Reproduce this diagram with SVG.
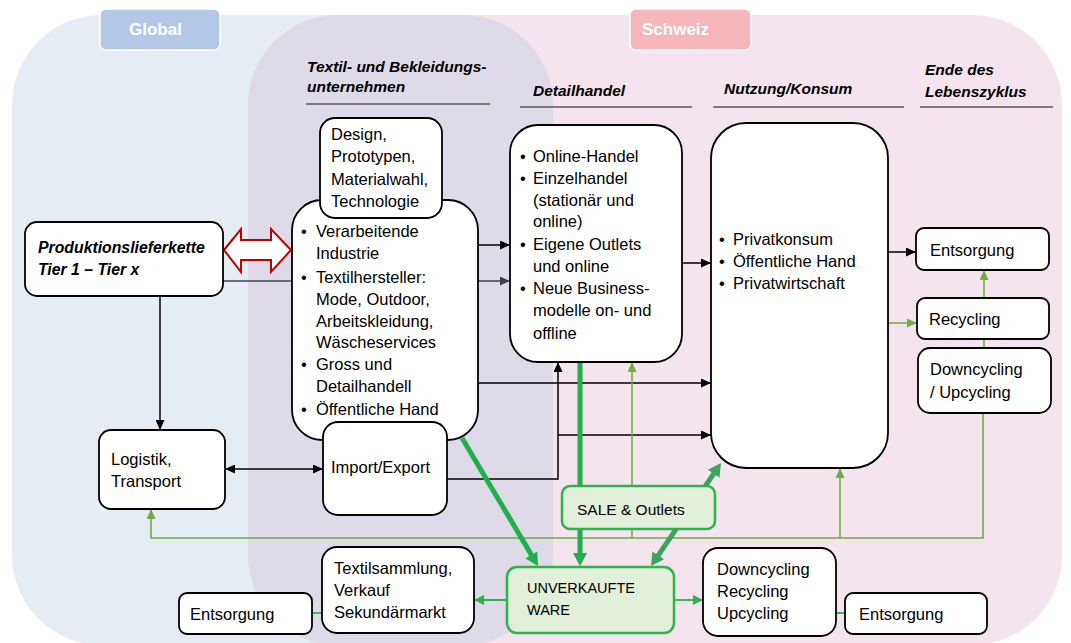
<svg xmlns="http://www.w3.org/2000/svg" width="1071" height="643" viewBox="0 0 1071 643">
<defs>
<style>
.node{fill:#fff;stroke:#000;stroke-width:1.8}
.gnode{fill:#e2efda;stroke:#2db34a;stroke-width:2.5}
.t{font-family:"Liberation Sans",Arial,sans-serif;font-size:16.5px;fill:#000}
.h{font-family:"Liberation Sans",Arial,sans-serif;font-size:15.5px;font-weight:bold;font-style:italic;fill:#000}
.lbl{font-family:"Liberation Sans",Arial,sans-serif;font-size:17px;font-weight:bold;fill:#fff}
.ul{stroke:#595959;stroke-width:1.5}
.cb{fill:none;stroke:#000;stroke-width:1.5}
.cs{fill:none;stroke:#3f3f55;stroke-width:1.5}
.cg{fill:none;stroke:#70ad47;stroke-width:1.6}
.cm{fill:none;stroke:#2db34a;stroke-width:1.8}
.ct{fill:none;stroke:#1fb04c;stroke-width:5}
.cd{fill:none;stroke:#3ba55d;stroke-width:5}
</style>
<marker id="ab" markerUnits="userSpaceOnUse" markerWidth="10" markerHeight="9" refX="10" refY="4.5" orient="auto-start-reverse"><path d="M0,0 L10,4.5 L0,9 z" fill="#000"/></marker>
<marker id="as" markerUnits="userSpaceOnUse" markerWidth="10" markerHeight="9" refX="10" refY="4.5" orient="auto"><path d="M0,0 L10,4.5 L0,9 z" fill="#3f3f55"/></marker>
<marker id="ag" markerUnits="userSpaceOnUse" markerWidth="10" markerHeight="9" refX="10" refY="4.5" orient="auto"><path d="M0,0 L10,4.5 L0,9 z" fill="#70ad47"/></marker>
<marker id="am" markerUnits="userSpaceOnUse" markerWidth="10" markerHeight="10" refX="10" refY="5" orient="auto"><path d="M0,0 L10,5 L0,10 z" fill="#2db34a"/></marker>
<marker id="at" markerUnits="userSpaceOnUse" markerWidth="14" markerHeight="14" refX="5" refY="7" orient="auto"><path d="M0,0 L13,7 L0,14 z" fill="#1fb04c"/></marker>
<marker id="ad" markerUnits="userSpaceOnUse" markerWidth="14" markerHeight="14" refX="5" refY="7" orient="auto-start-reverse"><path d="M0,0 L13,7 L0,14 z" fill="#3ba55d"/></marker>
</defs>

<g id="background">
<rect x="12" y="15" width="541" height="630" rx="90" fill="#e6ecf4"/>
<rect x="248" y="15" width="814" height="630" rx="90" fill="#f3e4ee"/>
<path d="M248,105 A90,90 0 0 1 338,15 L463,15 A90,90 0 0 1 553,105 L553,555 A90,90 0 0 1 463,645 L338,645 A90,90 0 0 1 248,555 Z" fill="#dfdae8"/>
</g>

<g id="label-global">
<rect x="100" y="9" width="120" height="41" rx="6" fill="#b4c7e7" stroke="#fff" stroke-width="1.5"/>
<text class="lbl" x="129" y="35">Global</text>
</g>
<g id="label-schweiz">
<rect x="630" y="9" width="121" height="41" rx="6" fill="#f6b6bc" stroke="#fff" stroke-width="1.5"/>
<text class="lbl" x="642" y="35">Schweiz</text>
</g>

<g id="headers">
<text class="h" x="307" y="72">Textil- und Bekleidungs-</text>
<text class="h" x="307" y="92">unternehmen</text>
<line class="ul" x1="306" y1="104" x2="490" y2="104"/>
<text class="h" x="533" y="96">Detailhandel</text>
<line class="ul" x1="520" y1="107" x2="692" y2="107"/>
<text class="h" x="724" y="94">Nutzung/Konsum</text>
<line class="ul" x1="713" y1="107" x2="904" y2="107"/>
<text class="h" x="925" y="75">Ende des</text>
<text class="h" x="925" y="97">Lebenszyklus</text>
<line class="ul" x1="920" y1="107" x2="1053" y2="107"/>
</g>

<g id="connectors">
<polygon points="224,250 241,229 241,240 271,240 271,229 291,250 271,272 271,260 241,260 241,272" fill="#fff" stroke="#c00000" stroke-width="2"/>
<path class="cb" d="M160,296 V430" marker-end="url(#ab)"/>
<path class="cs" d="M223,281 H510" marker-end="url(#as)"/>
<path class="cb" d="M478,245 H510" marker-end="url(#ab)"/>
<path class="cb" d="M682,263 H711" marker-end="url(#ab)"/>
<path class="cb" d="M478,383 H711" marker-end="url(#ab)"/>
<path class="cb" d="M447,479 H558 V362" marker-end="url(#ab)"/>
<path class="cb" d="M558,435 H711" marker-end="url(#ab)"/>
<path class="cb" d="M888,252 H916" marker-end="url(#ab)"/>
<path class="cb" d="M225,469 H323" marker-start="url(#ab)" marker-end="url(#ab)"/>
<path class="cg" d="M983,413 V538 H151 V509" marker-end="url(#ag)"/>
<path class="cg" d="M840,538 V468" marker-end="url(#ag)"/>
<path class="cg" d="M632,538 V362" marker-end="url(#ag)"/>
<path class="cg" d="M888,323 H917" marker-end="url(#ag)"/>
<path class="cg" d="M984,298 V270" marker-end="url(#ag)"/>
<path class="cg" d="M984,339 V348"/>
<path class="cm" d="M507,600 H474" marker-end="url(#am)"/>
<path class="cm" d="M674,600 H703" marker-end="url(#am)"/>
<path class="cm" d="M312,613 H322"/>
<path class="cm" d="M836,613 H845"/>
<path class="ct" d="M462,438 L533.9,559.1" marker-end="url(#at)"/>
<path class="ct" d="M580,362 V558" marker-end="url(#at)"/>
<path class="cd" d="M655.5,559.4 L716.5,469.6" marker-start="url(#ad)" marker-end="url(#ad)"/>
</g>

<g id="node-produktion">
<rect class="node" x="25" y="222" width="198" height="74" rx="12"/>
<text class="h" x="38" y="253" style="font-size:15.8px">Produktionslieferkette</text>
<text class="h" x="38" y="275" style="font-size:15.8px">Tier 1 – Tier x</text>
</g>

<g id="node-logistik">
<rect class="node" x="99" y="430" width="126" height="79" rx="12"/>
<text class="t" x="111" y="465">Logistik,</text>
<text class="t" x="111" y="487">Transport</text>
</g>

<g id="node-unternehmen">
<rect class="node" x="292" y="200" width="186" height="240" rx="30"/>
<text class="t" x="301" y="237">•</text><text class="t" x="316" y="237">Verarbeitende</text>
<text class="t" x="316" y="259">Industrie</text>
<text class="t" x="301" y="283">•</text><text class="t" x="316" y="283">Textilhersteller:</text>
<text class="t" x="316" y="305">Mode, Outdoor,</text>
<text class="t" x="316" y="327">Arbeitskleidung,</text>
<text class="t" x="316" y="348">Wäscheservices</text>
<text class="t" x="301" y="370">•</text><text class="t" x="316" y="370">Gross und</text>
<text class="t" x="316" y="392">Detailhandell</text>
<text class="t" x="301" y="415">•</text><text class="t" x="316" y="415">Öffentliche Hand</text>
</g>

<g id="node-design">
<rect class="node" x="320" y="118" width="122" height="100" rx="15"/>
<text class="t" x="331" y="140">Design,</text>
<text class="t" x="331" y="162">Prototypen,</text>
<text class="t" x="331" y="185">Materialwahl,</text>
<text class="t" x="331" y="207">Technologie</text>
</g>

<g id="node-import">
<rect class="node" x="323" y="422" width="124" height="93" rx="15"/>
<text class="t" x="331" y="473">Import/Export</text>
</g>

<g id="node-detailhandel">
<rect class="node" x="510" y="125" width="172" height="237" rx="28"/>
<text class="t" x="520" y="162">•</text><text class="t" x="533" y="162">Online-Handel</text>
<text class="t" x="520" y="184">•</text><text class="t" x="533" y="184">Einzelhandel</text>
<text class="t" x="533" y="206">(stationär und</text>
<text class="t" x="533" y="227">online)</text>
<text class="t" x="520" y="250">•</text><text class="t" x="533" y="250">Eigene Outlets</text>
<text class="t" x="533" y="272">und online</text>
<text class="t" x="520" y="294">•</text><text class="t" x="533" y="294">Neue Business-</text>
<text class="t" x="533" y="316">modelle on- und</text>
<text class="t" x="533" y="339">offline</text>
</g>

<g id="node-nutzung">
<rect class="node" x="711" y="123" width="177" height="345" rx="35"/>
<text class="t" x="719" y="245">•</text><text class="t" x="733" y="245">Privatkonsum</text>
<text class="t" x="719" y="267">•</text><text class="t" x="733" y="267">Öffentliche Hand</text>
<text class="t" x="719" y="289">•</text><text class="t" x="733" y="289">Privatwirtschaft</text>
</g>

<g id="node-entsorgung-r">
<rect class="node" x="916" y="228" width="133" height="42" rx="8"/>
<text class="t" x="930" y="256">Entsorgung</text>
</g>
<g id="node-recycling">
<rect class="node" x="917" y="298" width="132" height="41" rx="8"/>
<text class="t" x="929" y="325">Recycling</text>
</g>
<g id="node-downupcycling">
<rect class="node" x="918" y="348" width="133" height="65" rx="12"/>
<text class="t" x="930" y="375">Downcycling</text>
<text class="t" x="930" y="398">/ Upcycling</text>
</g>

<g id="node-sale">
<rect class="gnode" x="562" y="486" width="153" height="43" rx="8"/>
<text class="t" x="577" y="515" style="font-size:15.5px">SALE &amp; Outlets</text>
</g>

<g id="node-unverkaufte">
<rect class="gnode" x="507" y="567" width="167" height="66" rx="10"/>
<text class="t" x="527" y="593" style="font-size:14.5px">UNVERKAUFTE</text>
<text class="t" x="527" y="615" style="font-size:14.5px">WARE</text>
</g>

<g id="node-textilsammlung">
<rect class="node" x="322" y="547" width="152" height="86" rx="15"/>
<text class="t" x="334" y="574">Textilsammlung,</text>
<text class="t" x="334" y="596">Verkauf</text>
<text class="t" x="334" y="618">Sekundärmarkt</text>
</g>
<g id="node-entsorgung-bl">
<rect class="node" x="179" y="593" width="133" height="41" rx="8"/>
<text class="t" x="190" y="620">Entsorgung</text>
</g>

<g id="node-cycling-bottom">
<rect class="node" x="703" y="548" width="133" height="88" rx="15"/>
<text class="t" x="717" y="575">Downcycling</text>
<text class="t" x="717" y="597">Recycling</text>
<text class="t" x="717" y="619">Upcycling</text>
</g>
<g id="node-entsorgung-br">
<rect class="node" x="845" y="593" width="142" height="41" rx="8"/>
<text class="t" x="859" y="620">Entsorgung</text>
</g>
</svg>
